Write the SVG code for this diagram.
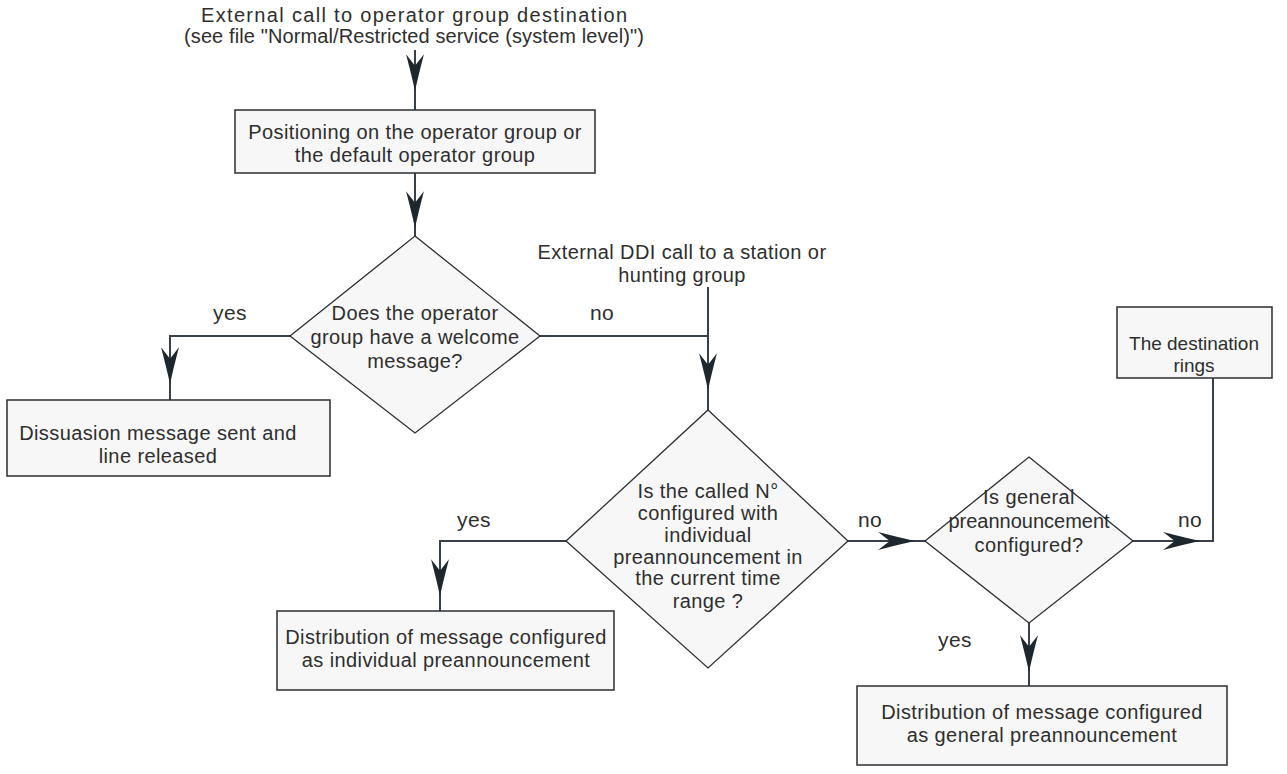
<svg xmlns="http://www.w3.org/2000/svg" width="1287" height="774" viewBox="0 0 1287 774">
<defs>
<style>
.box{fill:#f7f7f7;stroke:#2b2f33;stroke-width:1.5}
.dia{fill:#f7f7f7;stroke:#2b2f33;stroke-width:1.3}
.ln{fill:none;stroke:#37404a;stroke-width:2}
.t{font-family:"Liberation Sans",Arial,sans-serif;font-size:20px;letter-spacing:0.4px;fill:#2e2e2e;text-anchor:middle}
.tt{font-family:"Liberation Sans",Arial,sans-serif;font-size:20px;fill:#2e2e2e;text-anchor:middle}
.lbl{font-family:"Liberation Sans",Arial,sans-serif;font-size:21px;letter-spacing:0.4px;fill:#2e2e2e;text-anchor:middle}
</style>
<marker id="ah" markerUnits="userSpaceOnUse" markerWidth="40" markerHeight="24" viewBox="-36 -10 38 20" refX="0" refY="0" orient="auto">
<path d="M0,0 Q-14,-3 -35,-8.5 L-24,0 L-35,8.5 Q-14,3 0,0 Z" fill="#1e272e"/>
</marker>
</defs>
<rect width="1287" height="774" fill="#ffffff"/>
<g id="connectors">
<path class="ln" d="M415,50 V91" marker-end="url(#ah)"/><path class="ln" d="M415,91 V110"/>
<path class="ln" d="M415,173 V228" marker-end="url(#ah)"/><path class="ln" d="M415,228 V236"/>
<path class="ln" d="M290,336 H170 V384" marker-end="url(#ah)"/><path class="ln" d="M170,384 V400"/>
<path class="ln" d="M540,336 H708"/>
<path class="ln" d="M708,287 V390" marker-end="url(#ah)"/><path class="ln" d="M708,390 V410"/>
<path class="ln" d="M566,541 H440 V596" marker-end="url(#ah)"/><path class="ln" d="M440,596 V611"/>
<path class="ln" d="M848,541 H915" marker-end="url(#ah)"/><path class="ln" d="M915,541 H925"/>
<path class="ln" d="M1133,541 H1200" marker-end="url(#ah)"/><path class="ln" d="M1200,541 H1213 V378"/>
<path class="ln" d="M1029,623 V672" marker-end="url(#ah)"/><path class="ln" d="M1029,672 V686"/>
<text class="lbl" x="230" y="320">yes</text>
<text class="lbl" x="602" y="320">no</text>
<text class="lbl" x="474" y="527">yes</text>
<text class="lbl" x="870" y="527">no</text>
<text class="lbl" x="1190" y="527">no</text>
<text class="lbl" x="955" y="647">yes</text>
</g>
<g id="start1">
<text class="tt" x="414" y="22" textLength="426" lengthAdjust="spacing">External call to operator group destination</text>
<text class="tt" x="414" y="43" textLength="460" lengthAdjust="spacing">(see file "Normal/Restricted service (system level)")</text>
</g>
<g id="start2">
<text class="t" x="682" y="259">External DDI call to a station or</text>
<text class="t" x="682" y="282">hunting group</text>
</g>
<g id="positioning">
<rect class="box" x="235" y="110" width="360" height="63"/>
<text class="t" x="415" y="139">Positioning on the operator group or</text>
<text class="t" x="415" y="162">the default operator group</text>
</g>
<g id="welcome">
<polygon class="dia" points="415,236 540,336 415,433 290,336"/>
<text class="t" x="415" y="320">Does the operator</text>
<text class="t" x="415" y="344">group have a welcome</text>
<text class="t" x="415" y="368">message?</text>
</g>
<g id="dissuasion">
<rect class="box" x="7" y="400" width="323" height="76"/>
<text class="t" x="158" y="440">Dissuasion message sent and</text>
<text class="t" x="158" y="463">line released</text>
</g>
<g id="individual">
<polygon class="dia" points="708,410 848,541 708,668 566,541"/>
<text class="t" x="708" y="498">Is the called N°</text>
<text class="t" x="708" y="520">configured with</text>
<text class="t" x="708" y="542">individual</text>
<text class="t" x="708" y="564">preannouncement in</text>
<text class="t" x="708" y="585">the current time</text>
<text class="t" x="708" y="608">range ?</text>
</g>
<g id="indivmsg">
<rect class="box" x="277" y="611" width="337" height="79"/>
<text class="t" x="446" y="644">Distribution of message configured</text>
<text class="t" x="446" y="667">as individual preannouncement</text>
</g>
<g id="general">
<polygon class="dia" points="1029,457 1133,541 1029,623 925,541"/>
<text class="t" x="1029" y="504">Is general</text>
<text class="t" x="1029" y="528" style="letter-spacing:0">preannouncement</text>
<text class="t" x="1029" y="552">configured?</text>
</g>
<g id="rings">
<rect class="box" x="1117" y="307" width="155" height="71"/>
<text class="t" x="1194" y="350" style="letter-spacing:0;font-size:19px">The destination</text>
<text class="t" x="1194" y="372" style="letter-spacing:0;font-size:19px">rings</text>
</g>
<g id="generalmsg">
<rect class="box" x="857" y="686" width="370" height="79"/>
<text class="t" x="1042" y="719">Distribution of message configured</text>
<text class="t" x="1042" y="742">as general preannouncement</text>
</g>
</svg>
